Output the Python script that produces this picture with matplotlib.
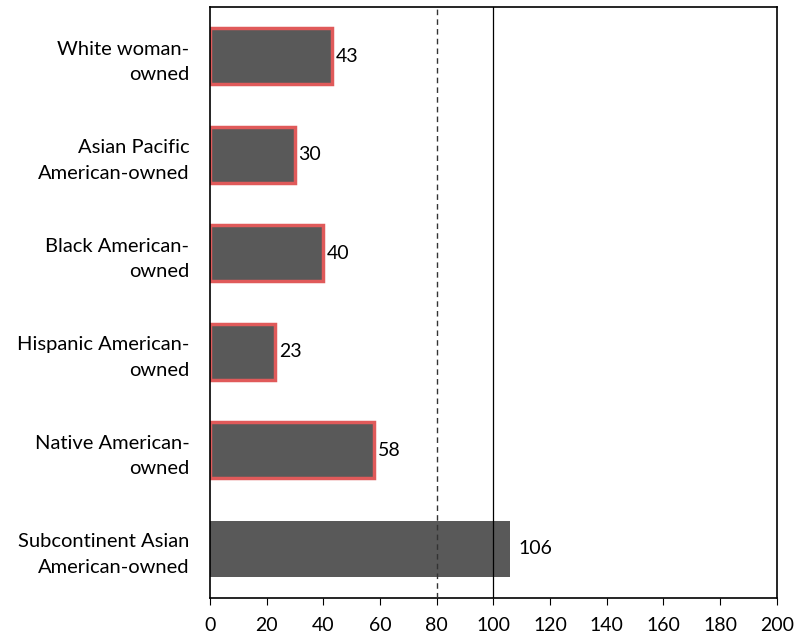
import numpy as np
import matplotlib.pyplot as plt

plt.rcParams['font.family'] = ['Lato', 'DejaVu Sans']

groups = ['White woman-\nowned', 'Asian Pacific\nAmerican-owned', 'Black American-\nowned',
          'Hispanic American-\nowned', 'Native American-\nowned', 'Subcontinent Asian\nAmerican-owned']
values = [43, 30, 40, 23, 58, 106]
threshold = 80
parity = 100

fig = plt.figure(figsize=(8.05, 6.34), dpi=100)
ax = fig.add_axes([0.261, 0.057, 0.704, 0.932])

y = np.arange(len(groups))[::-1]
for yi, v in zip(y, values):
    flagged = v < threshold
    ax.barh(yi, v, height=0.57, color='#595959',
            edgecolor='#e05a5a' if flagged else 'none',
            linewidth=2.5 if flagged else 0, zorder=2)
    ax.text(v + 1.2 if flagged else v + 3, yi, str(v), va='center', ha='left', fontsize=14)

ax.axvline(threshold, color='#333333', linestyle=(0, (4, 3)), linewidth=1, zorder=3)
ax.axvline(parity, color='black', linewidth=0.9, zorder=3)

ax.set_xlim(0, 200)
ax.set_ylim(-0.5, 5.5)
ax.set_xticks(np.arange(0, 201, 20))
ax.set_yticks(y)
ax.set_yticklabels(groups, fontsize=14.5, linespacing=1.6)
ax.tick_params(axis='x', labelsize=14, direction='out', length=5, pad=9)
ax.tick_params(axis='y', length=0, pad=15)
for s in ax.spines.values():
    s.set_linewidth(1.2)

fig.savefig('out.png', dpi=100)
